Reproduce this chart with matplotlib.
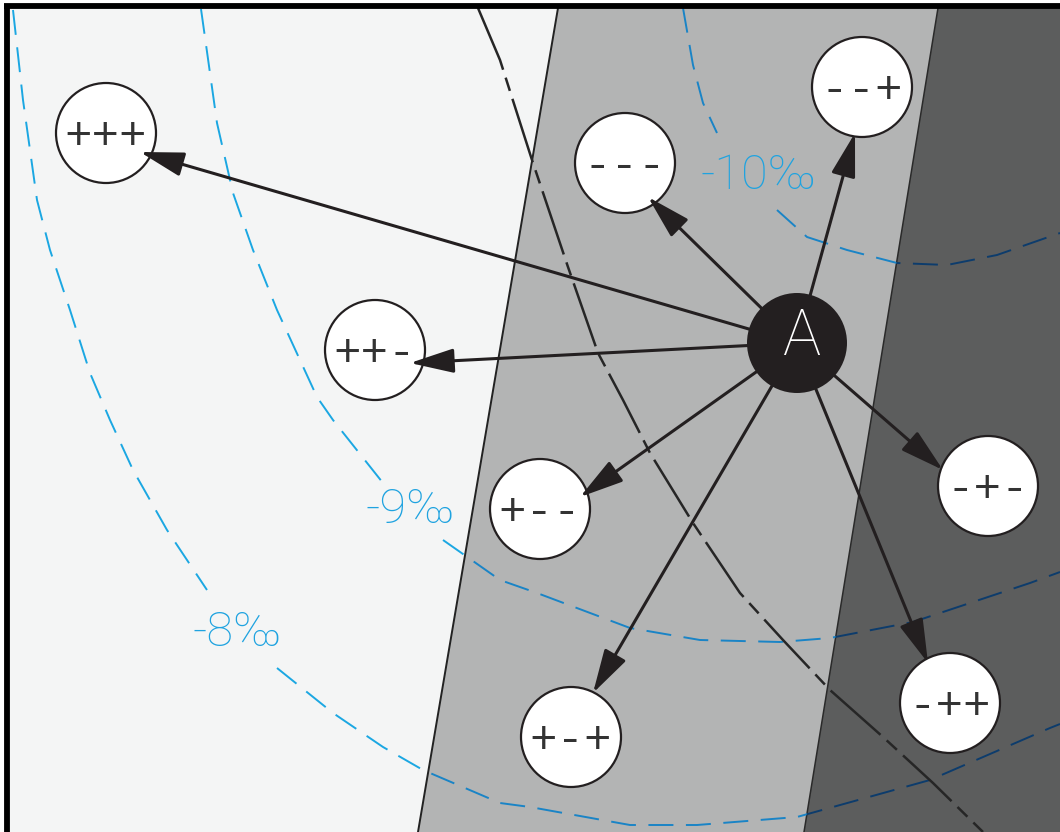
import numpy as np
import matplotlib.pyplot as plt
from matplotlib.patches import Polygon, Circle, FancyArrowPatch

plt.rcParams['lines.scale_dashes'] = False

W, H = 1060, 832

# band edges: x at the top (y=8) and at the bottom (y=832)
edge_y = [8, 832]
mid_left_x = [558, 418]
mid_right_x = [938, 804]

# state nodes and where each arrow tip lands
node_labels = ["+++", "++-", "---", "--+", "+--", "-+-", "-++", "+-+"]
node_x = [106, 375, 625, 862, 540, 988, 950, 571]
node_y = [133, 350, 163, 87, 509, 486, 703, 737]
tip_x = [140, 410, 648, 855, 580, 943, 928, 593]
tip_y = [152, 363, 197, 133, 497, 470, 663, 693]
a_x, a_y = 797, 343

# blue contour lines (nan = gap where the label sits)
c10_x = [683, 693, 703, 717, np.nan, 777, 807, 847, 897, 947, 997, 1060]
c10_y = [8, 65, 103, 133, np.nan, 210, 237, 250, 263, 265, 255, 233]
c9_x = [201, 217, 233, 253, 277, 317, 333, 383, np.nan, 443, 500, 537, 630, 700, 780, 830, 913, 1030, 1060]
c9_y = [9, 123, 193, 250, 310, 397, 420, 483, np.nan, 540, 580, 593, 628, 640, 642, 638, 622, 583, 572]
c8_x = [13, 23, 37, 50, 70, 90, 110, 133, 167, 207, np.nan, 277, 333, 383, 423, 500, 530, 630, 697, 797, 930, 1050, 1060]
c8_y = [10, 100, 200, 250, 310, 373, 420, 470, 530, 590, np.nan, 668, 713, 747, 770, 803, 807, 825, 825, 817, 780, 728, 724]
contour_labels = ["-10‰", "-9‰", "-8‰"]
label_x = [759, 410, 237]
label_y = [176, 510, 633]

# black dash-dot boundary
bd_x = [478, 500, 532, 568, 598, 623, 650, 693, 740, 783, 830, 883, 933, 983]
bd_y = [8, 60, 160, 267, 353, 400, 453, 523, 593, 640, 690, 737, 783, 832]

fig = plt.figure(figsize=(W / 100, H / 100), dpi=100)
ax = fig.add_axes([0, 0, 1, 1])
ax.set_xlim(0, W)
ax.set_ylim(H, 0)
ax.axis('off')

light = Polygon([(9, 8), (mid_left_x[0], edge_y[0]), (mid_left_x[1], edge_y[1]), (9, 832)],
                closed=True, fc='#f4f5f5', ec='none', zorder=0)
mid = Polygon([(mid_left_x[0], edge_y[0]), (mid_right_x[0], edge_y[0]),
               (mid_right_x[1], edge_y[1]), (mid_left_x[1], edge_y[1])],
              closed=True, fc='#b3b4b4', ec='none', zorder=0)
dark = Polygon([(mid_right_x[0], edge_y[0]), (W, edge_y[0]), (W, edge_y[1]), (mid_right_x[1], edge_y[1])],
               closed=True, fc='#5c5d5d', ec='none', zorder=0)
for p in (light, mid, dark):
    ax.add_patch(p)

ax.plot(mid_left_x, edge_y, color='#222222', lw=1.4, zorder=1)
ax.plot(mid_right_x, edge_y, color='#2a2a2a', lw=1.1, zorder=1)

blue_by_region = [(light, '#1ba7e2'), (mid, '#1a84c6'), (dark, '#0d3c6c')]
for cx, cy in [(c10_x, c10_y), (c9_x, c9_y), (c8_x, c8_y)]:
    for region, col in blue_by_region:
        ln, = ax.plot(cx, cy, color=col, lw=1.4, linestyle=(0, (18, 9)), zorder=2)
        ln.set_clip_path(region)

for txt, lx, ly in zip(contour_labels, label_x, label_y):
    ax.text(lx, ly, txt, color='#1fa3e0', fontsize=35, family=['Roboto', 'DejaVu Sans'],
            fontweight='light', ha='center', va='center', zorder=3)

ax.plot(bd_x, bd_y, color='#262626', lw=1.8, linestyle=(0, (48, 6, 10, 6)), zorder=3)

for tx, ty in zip(tip_x, tip_y):
    arr = FancyArrowPatch((a_x, a_y), (tx, ty),
                          arrowstyle='-|>,head_length=2.7,head_width=0.75',
                          mutation_scale=10, lw=2.2, color='#231f20',
                          shrinkA=0, shrinkB=0, zorder=4)
    ax.add_patch(arr)

for lab, nx, ny in zip(node_labels, node_x, node_y):
    ax.add_patch(Circle((nx, ny), 50, fc='white', ec='#231f20', lw=1.6, zorder=3.5))
    ax.text(nx, ny + 4, lab, color='#333333', fontsize=33, family='Liberation Mono',
            ha='center', va='center', zorder=6)

ax.add_patch(Circle((a_x, a_y), 50, fc='#231f20', ec='none', zorder=5))
ax.text(a_x + 5, a_y - 6, 'A', color='white', fontsize=46, family=['Roboto', 'DejaVu Sans'],
        fontweight='light', ha='center', va='center', zorder=6)

# frame
ax.plot([4, W], [6, 6], color='black', lw=4.2, zorder=7, solid_capstyle='butt')
ax.plot([7, 7], [4, H], color='black', lw=4.2, zorder=7, solid_capstyle='butt')

fig.savefig('out.png', dpi=100, facecolor='white')
